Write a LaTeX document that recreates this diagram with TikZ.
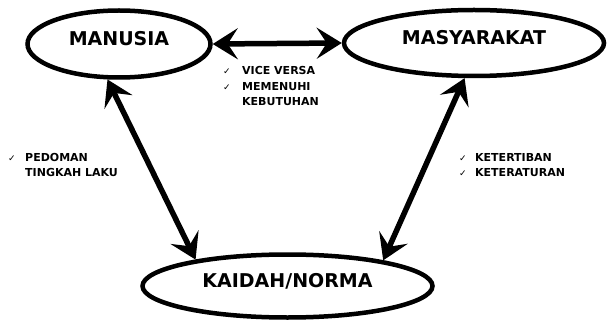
\documentclass[tikz,border=0pt]{standalone}
\usepackage{fontspec}
\setmainfont{DejaVu Sans}
\usetikzlibrary{arrows.meta,shapes.geometric}
\newfontfamily\chkfont{DejaVu Sans}
\newcommand\ckm{\makebox[17pt][l]{\chkfont\fontsize{9}{9}\selectfont ✓}}
\newcommand\nock{\makebox[17pt][l]{}}
\begin{document}
\begin{tikzpicture}[x=1pt,y=-1pt,
  oval/.style={draw,ellipse,line width=4.5pt,inner sep=0pt,text depth=11pt,
    font=\fontsize{19}{19}\selectfont\bfseries},
  dbl/.style={{Stealth[length=25pt,width=31pt,inset=10pt]}-{Stealth[length=25pt,width=31pt,inset=10pt]},line width=5.5pt},
  note/.style={anchor=west,inner sep=0pt,align=left,font=\fontsize{11}{15.5}\selectfont\bfseries}]
\useasboundingbox (0,0) rectangle (607,323);
\node[oval,minimum width=183pt,minimum height=67pt] (manusia) at (119,44) {MANUSIA};
\node[oval,minimum width=260pt,minimum height=66pt] (masyarakat) at (474,43) {MASYARAKAT};
\node[oval,minimum width=290pt,minimum height=63pt] (kaidah) at (287.5,286) {KAIDAH/NORMA};
\draw[dbl] (manusia.east) -- (masyarakat.west);
\draw[dbl] (manusia.-108) -- (kaidah.164);
\draw[dbl] (masyarakat.-105) -- (kaidah.15);
\node[note] (t1) at (223,86) {\makebox[19pt][l]{\chkfont\fontsize{9}{9}\selectfont ✓}VICE VERSA\\
  \makebox[19pt][l]{\chkfont\fontsize{9}{9}\selectfont ✓}MEMENUHI\\
  \makebox[19pt][l]{}KEBUTUHAN};
\node[note] (t2) at (8,165) {\ckm PEDOMAN\\ \nock TINGKAH LAKU};
\node[note] (t3) at (459,165) {\makebox[16pt][l]{\chkfont\fontsize{9}{9}\selectfont ✓}KETERTIBAN\\
  \makebox[16pt][l]{\chkfont\fontsize{9}{9}\selectfont ✓}KETERATURAN};
\end{tikzpicture}
\end{document}
